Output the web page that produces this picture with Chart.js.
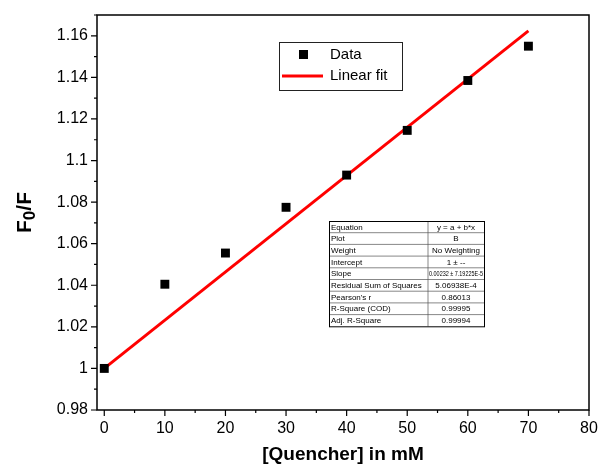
<!DOCTYPE html>
<html>
<head>
<meta charset="utf-8">
<script src="https://cdn.jsdelivr.net/npm/chart.js@4"></script>
<style>
  html, body { margin: 0; padding: 0; background: #fff; }
  #wrap { width: 601px; height: 466px; }
</style>
</head>
<body>
<div id="wrap"><canvas id="myChart" width="601" height="466"></canvas></div>
<script>
// data
var quencher = [0, 10, 20, 30, 40, 50, 60, 70];
var ratio = [1.0, 1.0405, 1.0555, 1.0775, 1.093, 1.1145, 1.1385, 1.155];
var fitX = [0, 70];
var fitY = [1.0, 1.1624];
var yTicks = [0.98, 1.0, 1.02, 1.04, 1.06, 1.08, 1.1, 1.12, 1.14, 1.16];
var xTicks = [0, 10, 20, 30, 40, 50, 60, 70, 80];
var tableLabels = ['Equation', 'Plot', 'Weight', 'Intercept', 'Slope', 'Residual Sum of Squares', "Pearson's r", 'R-Square (COD)', 'Adj. R-Square'];
var tableValues = ['y = a + b*x', 'B', 'No Weighting', '1 \u00b1 --', '0.00232 \u00b1 7.19225E-5', '5.06938E-4', '0.86013', '0.99995', '0.99994'];

var font = 'Arial, "Liberation Sans", sans-serif';

var toPoints = function(xs, ys){
	return xs.map(function(x, i){ return {x: x, y: ys[i]}; });
};

// ticks, minor ticks, y title, legend and fit table
var extras = {
	id: 'extras',
	afterDraw: function(chart){
		var ctx = chart.ctx;
		var xs = chart.scales.x, ys = chart.scales.y;
		var a = chart.chartArea;
		ctx.save();
		ctx.strokeStyle = '#000';
		ctx.lineWidth = 1.5;
		ctx.strokeRect(a.left, a.top, a.right - a.left, a.bottom - a.top);

		ctx.lineWidth = 1.2;
		ctx.beginPath();
		for (var v = 0; v <= 80; v += 5) {
			var px = xs.getPixelForValue(v);
			var len = (v % 10 === 0) ? 6 : 3;
			ctx.moveTo(px, a.bottom);
			ctx.lineTo(px, a.bottom + len);
		}
		for (var k = 0; k <= 19; k++) {
			var val = 0.98 + k * 0.01;
			var py = ys.getPixelForValue(val);
			var l = (k % 2 === 0) ? 6 : 3;
			ctx.moveTo(a.left, py);
			ctx.lineTo(a.left - l, py);
		}
		ctx.stroke();

		// y axis title F0/F with a subscript
		ctx.save();
		ctx.translate(23, (a.top + a.bottom) / 2);
		ctx.rotate(-Math.PI / 2);
		ctx.fillStyle = '#000';
		ctx.textBaseline = 'alphabetic';
		ctx.textAlign = 'left';
		var big = 'bold 21px ' + font, small = 'bold 17px ' + font;
		ctx.font = big;
		var w1 = ctx.measureText('F').width, w3 = ctx.measureText('/F').width;
		ctx.font = small;
		var w2 = ctx.measureText('0').width;
		var x0 = -(w1 + w2 + w3) / 2, base = 8;
		ctx.font = big;
		ctx.fillText('F', x0, base);
		ctx.font = small;
		ctx.fillText('0', x0 + w1, base + 4);
		ctx.font = big;
		ctx.fillText('/F', x0 + w1 + w2, base);
		ctx.restore();

		// legend box
		ctx.fillStyle = '#fff';
		ctx.fillRect(279, 42, 123, 48);
		ctx.lineWidth = 1;
		ctx.strokeStyle = '#222';
		ctx.strokeRect(279.5, 42.5, 123, 48);
		ctx.fillStyle = '#000';
		ctx.fillRect(299, 50, 9, 9);
		ctx.strokeStyle = '#ff0000';
		ctx.lineWidth = 3;
		ctx.beginPath();
		ctx.moveTo(282, 76);
		ctx.lineTo(323, 76);
		ctx.stroke();
		ctx.fillStyle = '#000';
		ctx.font = '15px ' + font;
		ctx.textBaseline = 'middle';
		ctx.textAlign = 'left';
		ctx.fillText(chart.data.datasets[0].label, 330, 55);
		ctx.fillText(chart.data.datasets[1].label, 330, 76);

		// fit table
		var tx = 329, ty = 221, tw = 155, rh = 11.7, cx = 428;
		ctx.fillStyle = '#fff';
		ctx.fillRect(tx, ty, tw, rh * tableLabels.length);
		ctx.strokeStyle = '#555';
		ctx.lineWidth = 0.7;
		ctx.beginPath();
		for (var r = 1; r < tableLabels.length; r++) {
			ctx.moveTo(tx, ty + r * rh);
			ctx.lineTo(tx + tw, ty + r * rh);
		}
		ctx.moveTo(cx, ty);
		ctx.lineTo(cx, ty + rh * tableLabels.length);
		ctx.stroke();
		ctx.strokeStyle = '#000';
		ctx.lineWidth = 1;
		ctx.strokeRect(tx + 0.5, ty + 0.5, tw, rh * tableLabels.length);
		ctx.fillStyle = '#000';
		ctx.font = '8px ' + font;
		tableLabels.forEach(function(t, i){
			ctx.textAlign = 'left';
			ctx.fillText(t, tx + 2, ty + i * rh + rh / 2 + 0.5, 95);
			ctx.textAlign = 'center';
			ctx.fillText(tableValues[i], (cx + tx + tw) / 2, ty + i * rh + rh / 2 + 0.5, 54);
		});
		ctx.restore();
	}
};

var ctx = document.getElementById('myChart');
var myChart = new Chart(ctx, {
	type: 'scatter',
	data: {
		datasets: [{
			label: 'Data',
			data: toPoints(quencher, ratio),
			pointStyle: 'rect',
			pointRadius: 6.3,
			backgroundColor: '#000',
			borderColor: '#000',
			borderWidth: 0,
			order: 1
		}, {
			label: 'Linear fit',
			type: 'line',
			data: toPoints(fitX, fitY),
			borderColor: '#ff0000',
			borderWidth: 3,
			pointRadius: 0,
			fill: false,
			order: 2
		}]
	},
	options: {
		responsive: false,
		animation: false,
		layout: { padding: { left: 0, right: 12, top: 15, bottom: 0 } },
		plugins: { legend: { display: false }, tooltip: { enabled: false } },
		scales: {
			x: {
				type: 'linear',
				min: -1.2,
				max: 80,
				afterBuildTicks: function(scale){
					scale.ticks = xTicks.map(function(v){ return {value: v}; });
				},
				afterFit: function(scale){
					scale.height = 56;
					scale.paddingLeft = 0;
					scale.paddingRight = 0;
				},
				grid: { display: false, drawTicks: false },
				border: { display: false },
				ticks: {
					padding: 9,
					color: '#000',
					font: { family: font, size: 16 },
					maxRotation: 0
				},
				title: {
					display: true,
					text: '[Quencher] in mM',
					color: '#000',
					font: { family: font, size: 19, weight: 'bold' },
					padding: { top: -2, bottom: 0 }
				}
			},
			y: {
				min: 0.98,
				max: 1.17,
				afterBuildTicks: function(scale){
					scale.ticks = yTicks.map(function(v){ return {value: v}; });
				},
				afterFit: function(scale){
					scale.width = 97;
					scale.paddingTop = 0;
					scale.paddingBottom = 0;
				},
				grid: { display: false, drawTicks: false },
				border: { display: false },
				ticks: {
					padding: 9,
					color: '#000',
					font: { family: font, size: 16 },
					callback: function(v){ return String(Number(v.toFixed(2))); }
				}
			}
		}
	},
	plugins: [extras]
});
</script>
</body>
</html>
